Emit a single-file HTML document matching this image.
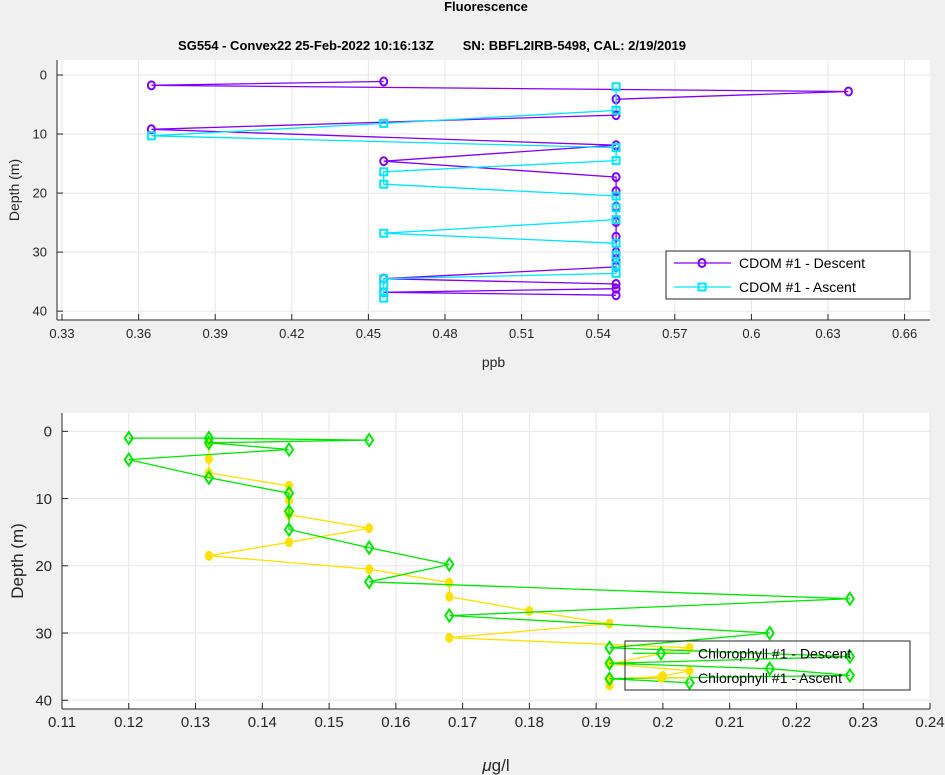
<!DOCTYPE html>
<html><head><meta charset="utf-8"><style>
body{margin:0;background:#f0f0f0;}
svg{display:block;font-family:"Liberation Sans",sans-serif;}
</style></head><body>
<svg id="fig" width="945" height="775">
<rect width="945" height="775" fill="#f0f0f0"/>
<text x="486" y="11" text-anchor="middle" font-size="13" font-weight="bold">Fluorescence</text>
<text x="432" y="50" text-anchor="middle" font-size="13" font-weight="bold">SG554 - Convex22 25-Feb-2022 10:16:13Z&#160;&#160;&#160;&#160;&#160;&#160;&#160;&#160;SN: BBFL2IRB-5498, CAL: 2/19/2019</text>
<g id="topAx"></g>
<g id="botAx"></g>
</svg>
<script>
// CDOM data
const cdomDescDepth=[1.1,1.75,2.8,4.1,6.8,9.2,11.9,14.6,17.3,19.7,22.3,24.9,27.4,30.0,31.2,32.5,34.5,35.4,36.2,36.8,37.3];
const cdomDescVal=[0.456,0.365,0.638,0.547,0.547,0.365,0.547,0.456,0.547,0.547,0.547,0.547,0.547,0.547,0.547,0.547,0.456,0.547,0.547,0.456,0.547];
const cdomAscDepth=[2.0,6.0,8.2,10.3,12.3,14.5,16.4,18.5,20.5,22.5,24.5,26.8,28.5,30.5,32.2,33.6,34.5,35.6,36.8,37.8];
const cdomAscVal=[0.547,0.547,0.456,0.365,0.547,0.547,0.456,0.456,0.547,0.547,0.547,0.456,0.547,0.547,0.547,0.547,0.456,0.456,0.456,0.456];
const cdomXTicks=[0.33,0.36,0.39,0.42,0.45,0.48,0.51,0.54,0.57,0.6,0.63,0.66];
const depthTicks=[0,10,20,30,40];
// Chlorophyll data
const chlDescDepth=[1.0,1.0,1.3,1.7,2.7,4.2,6.9,9.2,11.9,14.6,17.3,19.8,22.4,24.9,27.4,30.0,32.2,33.5,34.5,35.3,36.3,36.8,37.4];
const chlDescVal=[0.12,0.132,0.156,0.132,0.144,0.12,0.132,0.144,0.144,0.144,0.156,0.168,0.156,0.228,0.168,0.216,0.192,0.228,0.192,0.216,0.228,0.192,0.204];
const chlAscDepth=[1.8,4.1,6.2,8.1,10.2,12.4,14.4,16.5,18.5,20.5,22.5,24.6,26.7,28.6,30.7,32.2,34.6,35.6,36.4,36.9,37.8];
const chlAscVal=[0.132,0.132,0.132,0.144,0.144,0.144,0.156,0.144,0.132,0.156,0.168,0.168,0.18,0.192,0.168,0.204,0.192,0.204,0.2,0.192,0.192];
const chlXTicks=[0.11,0.12,0.13,0.14,0.15,0.16,0.17,0.18,0.19,0.2,0.21,0.22,0.23,0.24];

const NS="http://www.w3.org/2000/svg";
function mk(parent,tag,attrs){const e=document.createElementNS(NS,tag);for(const k in attrs)e.setAttribute(k,attrs[k]);parent.appendChild(e);return e;}

function drawAxes(g,cfg){
  const {L,T,R,B,x0,x1,y0,y1,xt,fs,xlab,ylab,ylabFs,xlabFs,ylabX,xlabY}=cfg;
  const xs=v=>L+(v-x0)/(x1-x0)*(R-L);
  const ys=v=>T+(v-y0)/(y1-y0)*(B-T);
  const bg=mk(g,'rect',{x:L,y:T,width:R-L,height:B-T,fill:'#fff'});
  
  
  xt.forEach(v=>{const x=xs(v);
    const l=mk(g,'line',{x1:x,x2:x,y1:T,y2:B,stroke:'#e6e6e6'});
    
    
    mk(g,'line',{x1:x,x2:x,y1:B,y2:B-6,stroke:'#262626'});
    const t=mk(g,'text',{x:x,y:B+18,'text-anchor':'middle','font-size':fs,fill:'#262626'});t.textContent=String(v);
    
    
  });
  depthTicks.forEach(v=>{const y=ys(v);
    const l=mk(g,'line',{x1:L,x2:R,y1:y,y2:y,stroke:'#e6e6e6'});
    
    
    mk(g,'line',{x1:L,x2:L+6,y1:y,y2:y,stroke:'#262626'});
    const t=mk(g,'text',{x:L-10,y:y+fs*0.35,'text-anchor':'end','font-size':fs,fill:'#262626'});t.textContent=String(v);
    
    
  });
  mk(g,'line',{x1:L,x2:L,y1:T,y2:B,stroke:'#262626'});
  mk(g,'line',{x1:L,x2:R,y1:B,y2:B,stroke:'#262626'});
  const xl=mk(g,'text',{x:(L+R)/2,y:xlabY,'text-anchor':'middle','font-size':xlabFs,fill:'#262626'});xl.innerHTML=xlab;
  
  
  const yl=mk(g,'text',{x:ylabX,y:(T+B)/2,'text-anchor':'middle','font-size':ylabFs,fill:'#262626',transform:`rotate(-90 ${ylabX} ${(T+B)/2})`});yl.textContent=ylab;
  
  
  return {xs,ys};
}
function marker(g,type,x,y,color){
  if(type==='circle')return mk(g,'ellipse',{cx:x,cy:y,rx:3.5,ry:4,fill:'none',stroke:color,'stroke-width':2});
  if(type==='square')return mk(g,'rect',{x:x-3.5,y:y-3.5,width:7,height:7,fill:'none',stroke:color,'stroke-width':2});
  if(type==='diamond')return mk(g,'polygon',{points:`${x},${y-6} ${x+4},${y} ${x},${y+6} ${x-4},${y}`,fill:'none',stroke:color,'stroke-width':2});
  return mk(g,'ellipse',{cx:x,cy:y,rx:3.5,ry:4.5,fill:color,stroke:color});
}
function series(g,ax,vals,deps,color,type,name){
  const sg=mk(g,'g',{});
  
  
  const pts=vals.map((v,i)=>ax.xs(v).toFixed(1)+','+ax.ys(deps[i]).toFixed(1)).join(' ');
  const pl=mk(sg,'polyline',{points:pts,fill:'none',stroke:color,'stroke-width':1.3});
  
  
  vals.forEach((v,i)=>{const m=marker(sg,type,ax.xs(v),ax.ys(deps[i]),color);
    
    });
}
function legend(g,x,y,w,h,items,fs,fill){
  const lg=mk(g,'g',{});
  
  
  mk(lg,'rect',{x:x,y:y,width:w,height:h,fill:fill,stroke:'#262626'});
  items.forEach((it,i)=>{const cy=y+h*(i*2+1)/4;
    const e=mk(lg,'g',{});
    
    
    mk(e,'line',{x1:x+8,x2:x+65,y1:cy,y2:cy,stroke:it.c,'stroke-width':1.3});
    marker(e,it.m,x+36,cy,it.c);
    const t=mk(e,'text',{x:x+73,y:cy+5,'font-size':fs,fill:'#000'});t.textContent=it.t;});
}
const topAxes=document.getElementById('topAx');
const a1=drawAxes(topAxes,{L:57,T:60,R:930,B:320,x0:0.33-5/76.6*0.03,x1:0.33+868/76.6*0.03,y0:-2.54,y1:41.5,xt:cdomXTicks,fs:13,xlab:'ppb',ylab:'Depth (m)',ylabFs:14,xlabFs:14,ylabX:19,xlabY:367});
series(topAxes,a1,cdomDescVal,cdomDescDepth,'#8000ff','circle','cdom-descent');
series(topAxes,a1,cdomAscVal,cdomAscDepth,'#00e5ff','square','cdom-ascent');
legend(topAxes,666,251,244,48,[{t:'CDOM #1 - Descent',c:'#8000ff',m:'circle'},{t:'CDOM #1 - Ascent',c:'#00e5ff',m:'square'}],14,'#fff');
const botAxes=document.getElementById('botAx');
const a2=drawAxes(botAxes,{L:62,T:413,R:930,B:709,x0:0.11,x1:0.24,y0:-2.73,y1:41.3,xt:chlXTicks,fs:15,xlab:'<tspan font-style="italic">μ</tspan>g/l',ylab:'Depth (m)',ylabFs:17,xlabFs:17,ylabX:23,xlabY:771});
series(botAxes,a2,chlAscVal,chlAscDepth,'#ffe100','dot','chlorophyll-ascent');
series(botAxes,a2,chlDescVal,chlDescDepth,'#00e600','diamond','chlorophyll-descent');
legend(botAxes,625,641,285,49,[{t:'Chlorophyll #1 - Descent',c:'#00e600',m:'diamond'},{t:'Chlorophyll #1 - Ascent',c:'#ffe100',m:'dot'}],14,'none');
</script>
</body></html>
